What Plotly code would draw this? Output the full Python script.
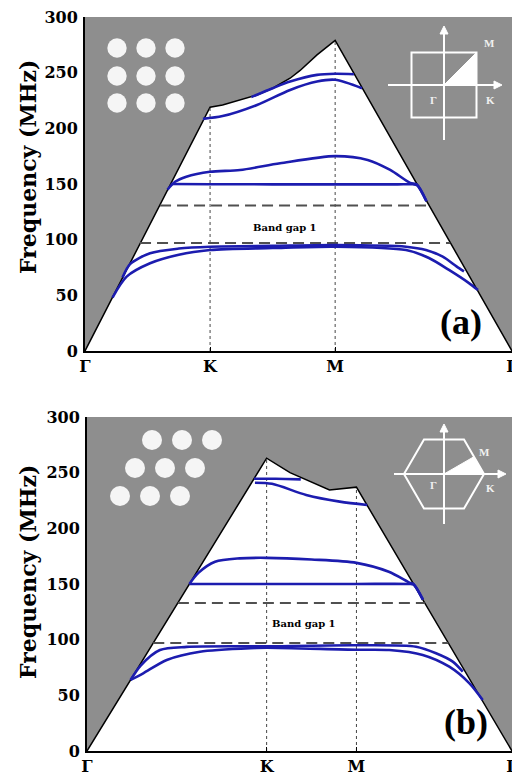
import plotly.graph_objects as go

# ---------------- data (frequency in MHz along the k-path) ----------------
# panel (a): square lattice, path Γ-K-M-Γ
A_TICK_K = [0, 1, 2, 3.414]
A_TICK_TEXT = ["Γ", "K", "M", "Γ"]
A_EDGE_K = [0, 1, 1.1, 1.24, 1.375, 1.5, 1.64, 1.72, 1.855, 2, 3.414]
A_EDGE_F = [0, 219, 221, 225.5, 230, 236, 245, 252, 266, 279, 0]

A_B1_K = [0.22, 0.333, 0.52, 0.75, 1.0, 1.5, 2.0, 2.567, 2.75, 2.91, 3.07, 3.142]
A_B1_F = [48, 66.8, 78.8, 86.5, 90.7, 92.5, 93.7, 90.7, 83.5, 72.8, 61, 54.8]
A_B2_K = [0.30, 0.36, 0.52, 0.75, 1.0, 1.5, 2.0, 2.567, 2.726, 2.86, 2.97, 3.03]
A_B2_F = [66, 78, 87.8, 92, 93.7, 94.5, 95.2, 93.7, 90.7, 84.7, 76, 71.5]
A_B3_K = [0.66, 0.72, 0.81, 1.0, 1.24, 1.56, 2.0, 2.26, 2.44, 2.6, 2.654, 2.73]
A_B3_F = [145, 152, 156.6, 161, 162.6, 168.6, 175, 171.6, 162.6, 151, 149.5, 134.5]
A_B4_K = [0.685, 1.0, 1.5, 2.0, 2.5, 2.62, 2.654, 2.73]
A_B4_F = [150, 149.8, 149.7, 149.7, 149.7, 149.7, 149, 134.5]
A_B5_K = [0.943, 1.10, 1.375, 1.64, 1.855, 2.0, 2.215]
A_B5_F = [208.5, 211, 221, 234.5, 242, 243.6, 236]
A_B6_K = [1.33, 1.5, 1.64, 1.855, 2.0, 2.15]
A_B6_F = [228, 236, 242, 248, 249, 248.6]
A_GAP_F = [97, 130.6]
A_GAP_K0 = [0.44, 0.60]
A_GAP_K1 = [2.92, 2.75]
A_SYM_K = [1, 2]
A_SYM_TOP = [219, 279]

# panel (b): triangular lattice, path Γ-K-M-Γ
B_TICK_K = [0, 1, 1.5, 2.366]
B_TICK_TEXT = ["Γ", "K", "M", "Γ"]
B_EDGE_K = [0, 1, 1.13, 1.35, 1.5, 2.366]
B_EDGE_F = [0, 263, 250, 234.5, 237, 0]

B_B1_K = [0.2426, 0.313, 0.444, 0.629, 0.94, 1.0, 1.5, 1.683, 1.869, 2.017, 2.129, 2.203]
B_B1_F = [63.8, 69.8, 81.8, 89.2, 92.5, 92.8, 91, 90.7, 86.3, 75.7, 60.8, 45.8]
B_B2_K = [0.2426, 0.30, 0.406, 0.555, 0.94, 1.0, 1.5, 1.832, 1.943, 2.036, 2.092]
B_B2_F = [63.8, 77, 90.7, 93.5, 94, 94, 95, 93.7, 87.8, 80.3, 71.3]
B_B3_K = [0.57, 0.62, 0.713, 0.85, 1.0, 1.25, 1.5, 1.68, 1.80, 1.818, 1.87]
B_B3_F = [150, 160, 170, 173, 173.5, 172, 169, 161, 151, 150, 136]
B_B4_K = [0.57, 1.0, 1.5, 1.79, 1.818, 1.87]
B_B4_F = [150, 150, 150, 150, 149.5, 136]
B_B5_K = [0.935, 1.03, 1.22, 1.407, 1.56]
B_B5_F = [241, 240, 230, 224, 221]
B_B6_K = [0.93, 1.05, 1.19]
B_B6_F = [244.5, 244.5, 244]
B_GAP_F = [97, 133]
B_GAP_K0 = [0.369, 0.506]
B_GAP_K1 = [2.012, 1.88]
B_SYM_K = [1, 1.5]
B_SYM_TOP = [263, 237]

Y_TICKS = [0, 50, 100, 150, 200, 250, 300]

# ---------------- styling ----------------
W, H = 512, 776
GRAY = "rgb(142,142,142)"
BLUE = "rgb(28,28,175)"
SERIF = "DejaVu Serif"


def px(x):
    return x / W


def py(y):
    return 1 - y / H


fig = go.Figure()


def panel(xa, ya, edge_k, edge_f, bands, gap_f, gap_k0, gap_k1, sym_k, sym_top):
    # white region under the light line
    fig.add_trace(go.Scatter(x=edge_k, y=edge_f, mode="lines", fill="toself",
                             fillcolor="white", line=dict(color="black", width=1.5),
                             xaxis=xa, yaxis=ya, hoverinfo="skip", showlegend=False))
    # dotted symmetry lines
    for k, top in zip(sym_k, sym_top):
        fig.add_trace(go.Scatter(x=[k, k], y=[0, top], mode="lines",
                                 line=dict(color="rgb(70,70,70)", width=1, dash="dot"),
                                 xaxis=xa, yaxis=ya, hoverinfo="skip", showlegend=False))
    # band gap edges
    for f, k0, k1 in zip(gap_f, gap_k0, gap_k1):
        fig.add_trace(go.Scatter(x=[k0, k1], y=[f, f], mode="lines",
                                 line=dict(color="rgb(80,80,80)", width=2, dash="11px,6px"),
                                 xaxis=xa, yaxis=ya, hoverinfo="skip", showlegend=False))
    # bands
    for bk, bf in bands:
        fig.add_trace(go.Scatter(x=bk, y=bf, mode="lines",
                                 line=dict(color=BLUE, width=2.6, shape="spline", smoothing=0.8),
                                 xaxis=xa, yaxis=ya, hoverinfo="skip", showlegend=False))


panel("x", "y", A_EDGE_K, A_EDGE_F,
      [(A_B1_K, A_B1_F), (A_B2_K, A_B2_F), (A_B3_K, A_B3_F), (A_B4_K, A_B4_F),
       (A_B5_K, A_B5_F), (A_B6_K, A_B6_F)],
      A_GAP_F, A_GAP_K0, A_GAP_K1, A_SYM_K, A_SYM_TOP)
panel("x2", "y2", B_EDGE_K, B_EDGE_F,
      [(B_B1_K, B_B1_F), (B_B2_K, B_B2_F), (B_B3_K, B_B3_F), (B_B4_K, B_B4_F),
       (B_B5_K, B_B5_F), (B_B6_K, B_B6_F)],
      B_GAP_F, B_GAP_K0, B_GAP_K1, B_SYM_K, B_SYM_TOP)

tickfont = dict(family=SERIF, size=16, color="black", weight="bold")


def xaxis(domain, anchor, rng, tv, tt):
    return dict(domain=domain, anchor=anchor, range=rng, tickvals=tv, ticktext=tt,
                showgrid=False, zeroline=False, showline=True, linecolor="black",
                linewidth=2, ticks="inside", ticklen=4, tickcolor="black",
                tickfont=tickfont, fixedrange=True, automargin=False,
                ticklabeloverflow="allow")


def yaxis(domain, anchor):
    return dict(domain=domain, anchor=anchor, range=[0, 300], tickvals=Y_TICKS,
                showgrid=False, zeroline=False, showline=True, linecolor="black",
                linewidth=2, ticks="", tickfont=tickfont, ticklabelstandoff=2,
                fixedrange=True, automargin=False)


shapes = []
WHITE = "rgb(245,245,245)"

# lattice insets
for cy in [48, 76, 103]:
    for cx in [117, 146, 175]:
        r = 9.7
        shapes.append(dict(type="circle", xref="paper", yref="paper",
                           x0=px(cx - r), x1=px(cx + r), y0=py(cy + r), y1=py(cy - r),
                           fillcolor=WHITE, line=dict(width=0)))
for cy, xs in [(440, [152, 182, 212]), (468, [135, 165, 195]), (496, [120, 150, 180])]:
    for cx in xs:
        r = 10
        shapes.append(dict(type="circle", xref="paper", yref="paper",
                           x0=px(cx - r), x1=px(cx + r), y0=py(cy + r), y1=py(cy - r),
                           fillcolor=WHITE, line=dict(width=0)))


def path(points, closed=True, fill=None, lw=2):
    d = "M " + " L ".join(f"{px(x):.5f},{py(y):.5f}" for x, y in points)
    if closed:
        d += " Z"
    s = dict(type="path", xref="paper", yref="paper", path=d,
             line=dict(color="white", width=lw))
    if fill:
        s["fillcolor"] = fill
    return s


# Brillouin zone (a)
cx, cy, hs = 444, 85, 32.5
shapes.append(path([(cx - hs, cy - hs), (cx + hs, cy - hs), (cx + hs, cy + hs), (cx - hs, cy + hs)]))
shapes.append(path([(cx, cy), (cx + hs, cy), (cx + hs, cy - hs)], fill="white", lw=1))
shapes.append(path([(388, cy), (496, cy)], closed=False))
shapes.append(path([(cx, 140), (cx, 32)], closed=False))
shapes.append(path([(502, cy), (494, cy - 4), (494, cy + 4)], fill="white", lw=1))
shapes.append(path([(cx, 26), (cx - 4, 34), (cx + 4, 34)], fill="white", lw=1))

# Brillouin zone (b)
cx, cy, R = 444, 474, 40
hexpts = [(cx + R, cy), (cx + R / 2, cy - 34.6), (cx - R / 2, cy - 34.6),
          (cx - R, cy), (cx - R / 2, cy + 34.6), (cx + R / 2, cy + 34.6)]
shapes.append(path(hexpts))
shapes.append(path([(cx, cy), (cx + R, cy), (cx + 3 * R / 4, cy - 17.3)], fill="white", lw=1))
shapes.append(path([(394, cy), (500, cy)], closed=False))
shapes.append(path([(cx, 524), (cx, 430)], closed=False))
shapes.append(path([(506, cy), (498, cy - 4), (498, cy + 4)], fill="white", lw=1))
shapes.append(path([(cx, 424), (cx - 4, 432), (cx + 4, 432)], fill="white", lw=1))

annotations = []


def ann(text, x, y, size, color="black", angle=0, bold=True, family=SERIF):
    annotations.append(dict(text=text, xref="paper", yref="paper", x=px(x), y=py(y),
                            showarrow=False, textangle=angle, xanchor="center",
                            yanchor="middle",
                            font=dict(family=family, size=size, color=color,
                                      weight="bold" if bold else "normal")))


ann("Frequency (MHz)", 28, 167, 22, angle=-90)
ann("Frequency (MHz)", 28, 572, 22, angle=-90)
ann("Band gap 1", 285, 227, 10)
ann("Band gap 1", 304, 623, 10)
ann("(a)", 461, 322, 36, family="Liberation Serif")
ann("(b)", 466, 722, 36, family="Liberation Serif")
for t, x, y in [("M", 489, 43), ("K", 490, 100), ("Γ", 433, 100),
                ("M", 484, 452), ("K", 490, 488), ("Γ", 433, 485)]:
    ann(t, x, y, 11, color="rgb(240,240,240)", family="Liberation Serif")

fig.update_layout(
    width=W, height=H, margin=dict(l=0, r=0, t=0, b=0, autoexpand=False),
    paper_bgcolor="white", plot_bgcolor=GRAY, showlegend=False,
    xaxis=xaxis([px(85), 1.0], "y", [0, 3.414], A_TICK_K, A_TICK_TEXT),
    yaxis=yaxis([py(351), py(17)], "x"),
    xaxis2=xaxis([px(87), 1.0], "y2", [0, 2.366], B_TICK_K, B_TICK_TEXT),
    yaxis2=yaxis([py(751), py(417)], "x2"),
    shapes=shapes, annotations=annotations,
)

fig.write_html(
    "out.html",
    config={"displayModeBar": False},
    post_script="document.body.style.margin='0px';document.body.style.overflow='hidden';",
)
